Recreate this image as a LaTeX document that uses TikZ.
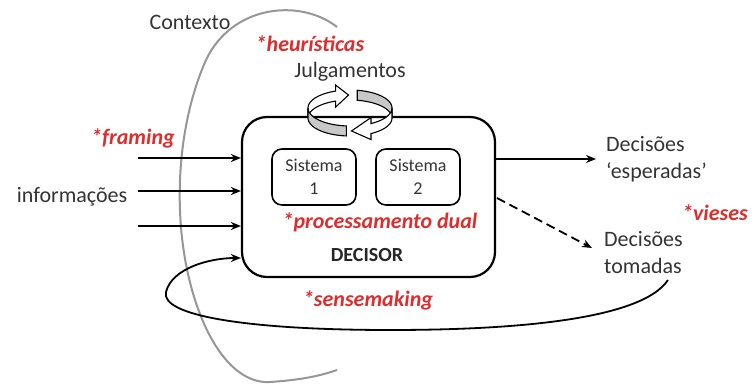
\documentclass[tikz,border=0pt]{standalone}
\usepackage{fontspec}
\setmainfont{Carlito}
\usetikzlibrary{arrows.meta}
\definecolor{labred}{RGB}{222,45,45}
\definecolor{arcgray}{RGB}{150,150,150}
\definecolor{ringgray}{RGB}{200,200,200}
\begin{document}
\begin{tikzpicture}[x=1pt,y=-1pt,
 txt/.style={font=\fontsize{22}{27}\selectfont, inner sep=0pt, text=black!80},
 redtxt/.style={text=labred, font=\fontsize{22}{26}\selectfont\bfseries\itshape, inner sep=0pt},
 sysbox/.style={draw, line width=1.6pt, rounded corners=10pt, minimum width=84pt, minimum height=56pt, align=center, font=\fontsize{18}{23}\selectfont, text=black!80},
 conn/.style={line width=1.8pt, -{Stealth[length=10pt,width=8pt]}},
 ringpart/.style={draw=black, line width=1.1pt},
]
\useasboundingbox (0,0) rectangle (755,383);

% context arc
\draw[arcgray, line width=2pt] (337,27) .. controls (300,-2) and (232,5) .. (206,60)
  .. controls (186,105) and (178,160) .. (180,210)
  .. controls (183,300) and (220,385) .. (270,382)
  .. controls (300,380) and (320,376) .. (337,370);

% main box
\node[draw, rounded corners=25pt, line width=2.2pt, minimum width=253pt, minimum height=160pt] (dec) at (368.5,197) {};

% ring (Julgamentos)
\def\h{10}
% back upper-right gray band
\path[ringpart, fill=ringgray] plot[domain=280:360, samples=20, smooth] ({350+42*cos(\x)},{108+18*sin(\x)})
  -- plot[domain=360:280, samples=20, smooth] ({350+42*cos(\x)},{108+\h+18*sin(\x)}) -- cycle;
% back upper-left white arrow
\path[ringpart, fill=white] plot[domain=180:250, samples=20, smooth] ({350+42*cos(\x)},{108+18*sin(\x)})
  -- ({350+42*cos(250)},{108+18*sin(250)-6})
  -- ({350+42*cos(268)},{108+18*sin(268)+\h/2})
  -- ({350+42*cos(250)},{108+18*sin(250)+\h+6})
  -- ({350+42*cos(250)},{108+18*sin(250)+\h})
  -- plot[domain=250:180, samples=20, smooth] ({350+42*cos(\x)},{108+\h+18*sin(\x)}) -- cycle;
% front lower-left gray band
\path[ringpart, fill=ringgray] plot[domain=95:180, samples=20, smooth] ({350+42*cos(\x)},{108+18*sin(\x)})
  -- plot[domain=180:95, samples=20, smooth] ({350+42*cos(\x)},{108+\h+18*sin(\x)}) -- cycle;
% front lower-right white arrow
\path[ringpart, fill=white] plot[domain=0:60, samples=20, smooth] ({350+42*cos(\x)},{108+18*sin(\x)})
  -- ({350+42*cos(60)},{108+18*sin(60)-6})
  -- ({350+42*cos(88)},{108+18*sin(88)+\h/2})
  -- ({350+42*cos(60)},{108+18*sin(60)+\h+6})
  -- ({350+42*cos(60)},{108+18*sin(60)+\h})
  -- plot[domain=60:0, samples=20, smooth] ({350+42*cos(\x)},{108+\h+18*sin(\x)}) -- cycle;

% systems
\node[sysbox] (s1) at (314,177) {Sistema\\1};
\node[sysbox] (s2) at (418,177) {Sistema\\2};

% texts
\node[txt] (ctx) at (190,22) {Contexto};
\node[redtxt] (heur) at (310,44) {*heurísticas};
\node[txt] (julg) at (350,72) {Julgamentos};
\node[redtxt] (fram) at (133,138) {*framing};
\node[txt] (info) at (72,197) {informações};
\node[redtxt] (dual) at (380,222) {*processamento dual};
\node[font=\fontsize{20}{24}\selectfont\bfseries, inner sep=0pt, text=black!85] (decl) at (367,255) {DECISOR};
\node[redtxt] (sense) at (368,300) {*sensemaking};
\node[redtxt] (vies) at (715,213) {*vieses};
\node[txt, align=left, anchor=west] (esp) at (606,159) {Decisões\\‘esperadas’};
\node[txt, align=left, anchor=west] (tom) at (604,253) {Decisões\\tomadas};

% input arrows
\coordinate (in1) at (138,158);
\coordinate (in2) at (138,191);
\coordinate (in3) at (138,226);
\draw[conn] (in1) -- (dec.west |- in1);
\draw[conn] (in2) -- (dec.west |- in2);
\draw[conn] (in3) -- (dec.west |- in3);

% outputs
\coordinate (espin) at (596,159);
\draw[conn] (dec.east |- espin) -- (espin);
\coordinate (dashout) at (497,198);
\coordinate (tomin) at (592,248);
\draw[conn, dash pattern=on 9pt off 5pt] (dashout) -- (tomin);

% sensemaking loop
\coordinate (lp) at (668,280);
\coordinate (lpy) at (0,258);
\draw[conn] (lp) .. controls (640,322) and (500,330) .. (390,330)
  .. controls (250,330) and (160,316) .. (166,292)
  .. controls (172,268) and (210,258) .. (dec.west |- lpy);
\end{tikzpicture}
\end{document}
